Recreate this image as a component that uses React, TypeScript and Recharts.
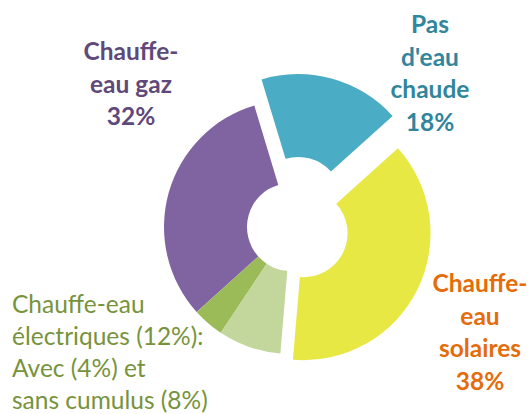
import React from 'react';
import { PieChart, Pie, Cell } from 'recharts';

// slices, counter-clockwise from the top-right
const categories = [
    "Pas d'eau chaude",
    'Chauffe-eau gaz',
    'Électriques avec cumulus',
    'Électriques sans cumulus',
    'Chauffe-eau solaires',
];
const shares = [18, 32, 4, 8, 38];
const sliceColors = ['#4BACC6', '#8064A2', '#9BBB59', '#C3D69B', '#E8E845'];
// how far each slice is pulled out of the ring
const explode = [27, 0, 0, 0, 14];

const data = categories.map((name, i) => ({ name, value: shares[i] }));

const W = 530;
const H = 414;
const CX = 291;
const CY = 227;
const START = 42;
const total = shares.reduce((a, b) => a + b, 0);

// mid angle of a slice, degrees
const midAngle = (i: number) => {
    const before = shares.slice(0, i).reduce((a, b) => a + b, 0);
    return START + ((before + shares[i] / 2) / total) * 360;
};

// labels
const gazLines = ['Chauffe-', 'eau gaz', '32%'];
const pasLines = ['Pas', "d'eau", 'chaude', '18%'];
const solLines = ['Chauffe-', 'eau', 'solaires', '38%'];
const elecLines = ['Chauffe-eau', 'électriques (12%):', 'Avec (4%) et', 'sans cumulus (8%)'];

const font = 'Lato, "Open Sans", sans-serif';

const Block = ({ lines, x, y, color, bold, anchor, step = 32.5 }: any) => (
    <text
        x={x}
        y={y}
        fill={color}
        fontFamily={font}
        fontSize={24.5}
        fontWeight={bold ? 700 : 400}
        textAnchor={anchor}
    >
        {lines.map((l: string, i: number) => (
            <tspan key={i} x={x} dy={i === 0 ? 0 : step}>
                {l}
            </tspan>
        ))}
    </text>
);

const App: React.FC = () => {
    // one ring per displacement, each showing only its own slices
    const layers = [
        { show: [1, 2, 3], d: 0, ref: 1 },
        { show: [0], d: explode[0], ref: 0 },
        { show: [4], d: explode[4], ref: 4 },
    ];
    return (
        <div style={{ position: 'absolute', left: 0, top: 0, background: '#fff' }}>
            <PieChart width={W} height={H} margin={{ top: 0, right: 0, bottom: 0, left: 0 }}>
                {layers.map((layer, k) => {
                    const a = (midAngle(layer.ref) * Math.PI) / 180;
                    const cx = CX + layer.d * Math.cos(a);
                    const cy = CY - layer.d * Math.sin(a);
                    return (
                        <Pie
                            key={k}
                            data={data}
                            dataKey="value"
                            cx={cx}
                            cy={cy}
                            innerRadius={44}
                            outerRadius={127}
                            startAngle={START}
                            endAngle={START + 360}
                            stroke="none"
                            isAnimationActive={false}
                        >
                            {data.map((_, i) => (
                                <Cell
                                    key={i}
                                    fill={layer.show.includes(i) ? sliceColors[i] : 'transparent'}
                                />
                            ))}
                        </Pie>
                    );
                })}
                <Block lines={gazLines} x={131} y={60} color="#5F497A" bold anchor="middle" />
                <Block lines={pasLines} x={430} y={33} color="#31859C" bold anchor="middle" />
                <Block lines={solLines} x={480} y={292} color="#E46C0A" bold anchor="middle" />
                <Block lines={elecLines} x={12} y={313} step={32} color="#77933C" anchor="start" />
            </PieChart>
        </div>
    );
};

export default App;
